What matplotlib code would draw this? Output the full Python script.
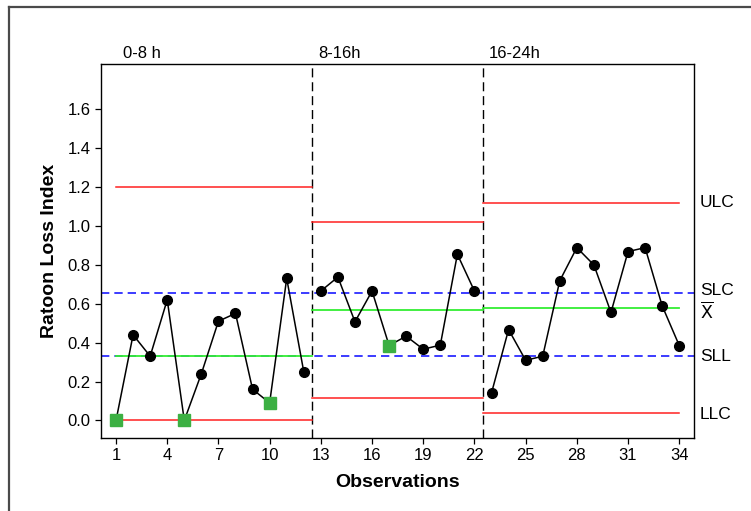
import numpy as np
import matplotlib.pyplot as plt
from matplotlib.lines import Line2D

plt.rcParams['font.family'] = ['Liberation Sans', 'DejaVu Sans']

# ---- data -------------------------------------------------------------
obs = np.arange(1, 35)
ratoon_loss = [0.00, 0.44, 0.33, 0.62, 0.00, 0.24, 0.51, 0.55, 0.16, 0.09, 0.73, 0.25,
               0.665, 0.737, 0.507, 0.665, 0.385, 0.433, 0.366, 0.387, 0.854, 0.665,
               0.141, 0.467, 0.309, 0.33, 0.718, 0.888, 0.799, 0.555, 0.868, 0.888, 0.589, 0.385]
out_points = [1, 5, 10, 17]          # observations shown as green squares

shifts = ["0-8 h", "8-16h", "16-24h"]
shift_start = [1, 13, 23]
shift_end = [12, 22, 34]
ulc = [1.20, 1.022, 1.118]
llc = [0.00, 0.113, 0.038]
xbar = [0.33, 0.567, 0.576]
slc = 0.656
sll = 0.33

# ---- figure -----------------------------------------------------------
fig = plt.figure(figsize=(7.51, 5.11), dpi=100)
ax = fig.add_axes([0.1345, 0.143, 0.7895, 0.731])

# outer frame (only left and top edges visible)
fig.add_artist(Line2D([9/751, 9/751], [0, 1 - 7/511], color="#4a4a4a", lw=1.6,
                      transform=fig.transFigure))
fig.add_artist(Line2D([9/751, 1], [1 - 7/511, 1 - 7/511], color="#4a4a4a", lw=1.6,
                      transform=fig.transFigure))

ax.axhline(slc, color="#1a1aff", lw=1.2, ls=(0, (5, 3)), zorder=2)
ax.axhline(sll, color="#1a1aff", lw=1.2, ls=(0, (5, 3)), zorder=2)

y = np.array(ratoon_loss)
for i in range(3):
    a, b = shift_start[i], shift_end[i]
    x0 = a if i == 0 else a - 0.5
    x1 = b if i == 2 else b + 0.5
    ax.plot([x0, x1], [ulc[i], ulc[i]], color="#ff2020", lw=1.1, zorder=2)
    ax.plot([x0, x1], [llc[i], llc[i]], color="#ff2020", lw=1.1, zorder=2)
    ax.plot([x0, x1], [xbar[i], xbar[i]], color="#33ee33", lw=1.3, zorder=2)
    seg = obs[(obs >= a) & (obs <= b)]
    ax.plot(seg, y[seg - 1], color="black", lw=1.1, zorder=3)
    normal = [o for o in seg if o not in out_points]
    ax.plot(normal, y[np.array(normal) - 1], 'o', color="black", ms=7, zorder=4)
    ax.text(x0 + 0.4 if i == 0 else x0 + 0.35, 1.845, shifts[i], fontsize=12,
            ha="left", va="bottom", clip_on=False)

ax.plot(out_points, y[np.array(out_points) - 1], 's', color="#3cb043", ms=9, zorder=5)

for xv in [12.5, 22.5]:
    ax.axvline(xv, color="black", lw=1.0, ls=(0, (6.5, 3.5)), zorder=1)

# right labels
tr = ax.get_yaxis_transform()
ax.text(1.01, ulc[2], "ULC", transform=tr, fontsize=12.5, va="center")
ax.text(1.01, slc + 0.01, "SLC", transform=tr, fontsize=12.5, va="center")
ax.text(1.01, xbar[2] - 0.015, r"$\overline{\mathrm{X}}$", transform=tr, fontsize=12.5,
        va="center")
ax.text(1.01, sll, "SLL", transform=tr, fontsize=12.5, va="center")
ax.text(1.01, llc[2] - 0.01, "LLC", transform=tr, fontsize=12.5, va="center")

ax.set_xlim(0.12, 34.86)
ax.set_ylim(-0.09, 1.83)
ax.set_xticks(np.arange(1, 35, 3))
ax.set_yticks(np.arange(0, 1.61, 0.2))
ax.set_yticklabels([f"{v:.1f}" for v in np.arange(0, 1.61, 0.2)])
ax.tick_params(direction="out", labelsize=12, length=4, width=0.9)
for s in ax.spines.values():
    s.set_linewidth(1.0)

ax.set_xlabel("Observations", fontsize=14, fontweight="bold", labelpad=8)
ax.set_ylabel("Ratoon Loss Index", fontsize=14, fontweight="bold", labelpad=7)

plt.savefig("out.png", dpi=100)
